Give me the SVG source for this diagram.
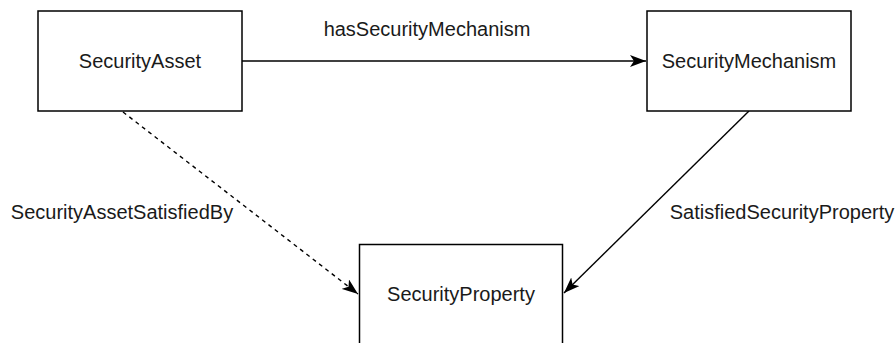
<svg xmlns="http://www.w3.org/2000/svg" width="896" height="343" viewBox="0 0 896 343">
<style>
.node rect{fill:#fff;stroke:#000;stroke-width:1.5}
text{font-family:"Liberation Sans",Arial,sans-serif;font-size:20px;fill:#1a1a1a}
.node text{text-anchor:middle}
.edge{fill:none;stroke:#000;stroke-width:1.4}
.dash{stroke-dasharray:4 4}
</style>
<defs>
<marker id="arr" markerUnits="userSpaceOnUse" viewBox="0 0 16 12" refX="16" refY="6" markerWidth="16" markerHeight="12" orient="auto">
<path d="M0,0 L16,6 L0,12 L4,6 Z" fill="#000"/>
</marker>
</defs>
<rect width="896" height="343" fill="#fff"/>
<g id="connectors">
<line class="edge" x1="242" y1="61" x2="646" y2="61" marker-end="url(#arr)"/>
<line class="edge dash" x1="123" y1="112" x2="358" y2="294" marker-end="url(#arr)"/>
<line class="edge" x1="749" y1="111" x2="564" y2="293" marker-end="url(#arr)"/>
<text x="427" y="36" text-anchor="middle">hasSecurityMechanism</text>
<text x="122" y="219" text-anchor="middle">SecurityAssetSatisfiedBy</text>
<text x="782" y="219" text-anchor="middle">SatisfiedSecurityProperty</text>
</g>
<g id="SecurityAsset" class="node">
<rect x="38" y="11" width="204" height="100"/>
<text x="140" y="68">SecurityAsset</text>
</g>
<g id="SecurityMechanism" class="node">
<rect x="647" y="11" width="204" height="100"/>
<text x="749" y="68">SecurityMechanism</text>
</g>
<g id="SecurityProperty" class="node">
<rect x="359.5" y="244.5" width="203" height="100"/>
<text x="461" y="301">SecurityProperty</text>
</g>
</svg>
